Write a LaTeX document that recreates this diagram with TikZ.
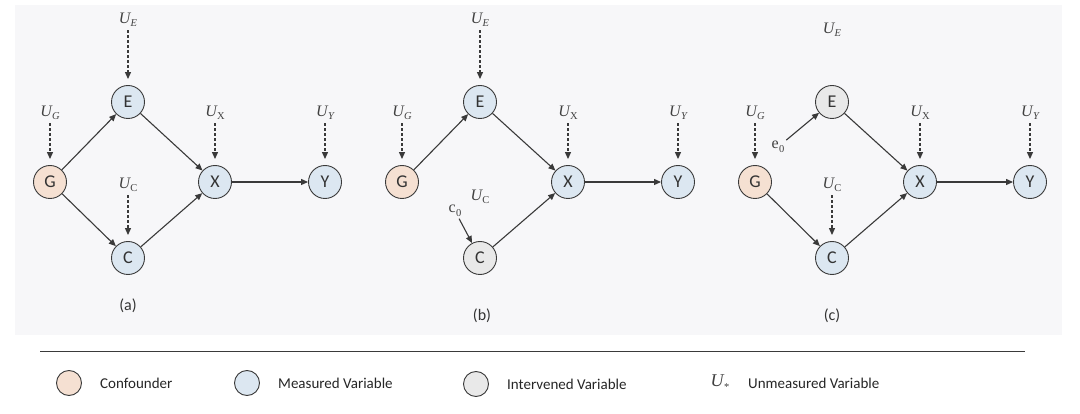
\documentclass[tikz,border=0pt]{standalone}
\usepackage{fontspec}
\setmainfont{Carlito}
\newfontfamily\uf{Liberation Serif}
\usetikzlibrary{arrows.meta}
\newcommand\UU[1]{{\uf\itshape U}\kern0.3pt\raisebox{-0.45ex}{\fontsize{10.5}{10.5}\selectfont\uf #1}}
\newcommand\SUB[2]{{\uf #1}\kern0.3pt\raisebox{-0.45ex}{\fontsize{10.5}{10.5}\selectfont\uf #2}}
\definecolor{conf}{HTML}{F5E0D2}
\definecolor{meas}{HTML}{DCE7F1}
\definecolor{intv}{HTML}{E9E9E9}
\definecolor{edge}{HTML}{3A3A3A}
\definecolor{bg}{HTML}{F7F7F9}
\tikzset{
  var/.style={circle,draw=edge,line width=0.9pt,minimum size=33pt,inner sep=0pt,font=\fontsize{18}{18}\selectfont,text=black!80},
  cf/.style={var,fill=conf},
  ms/.style={var,fill=meas},
  iv/.style={var,fill=intv},
  ulab/.style={inner sep=1pt,font=\fontsize{16}{16}\selectfont,text=black!75},
  arr/.style={draw=edge,line width=1.1pt,-{Triangle[length=7pt,width=6pt]}},
  darr/.style={draw=edge,line width=1.2pt,dashed,dash pattern=on 3pt off 2pt,-{Triangle[length=7pt,width=6pt]},shorten >=6pt,shorten <=2pt},
  captxt/.style={font=\fontsize{16}{16}\selectfont,text=black!80},
  legc/.style={circle,draw=edge,line width=0.9pt,minimum size=25pt,inner sep=0pt},
  legt/.style={anchor=west,inner sep=0pt,font=\fontsize{15}{15}\selectfont,text=black!85}
}
\begin{document}
\begin{tikzpicture}[x=1pt,y=-1pt]
\useasboundingbox (0,0) rectangle (1080,414);
\fill[white] (0,0) rectangle (1080,414);
\fill[bg] (15,5) rectangle (1062,335);
% ---------- panel (a)
\begin{scope}[name prefix=a-]
\node[cf] (G) at (50,182) {G};
\node[ms] (E) at (128,102) {E};
\node[ms] (C) at (128,258) {C};
\node[ms] (X) at (215,182) {X};
\node[ms] (Y) at (325,182) {Y};
\node[ulab] (uE) at (128,20) {\UU{\itshape E}};
\node[ulab] (uG) at (50,113) {\UU{\itshape G}};
\node[ulab] (uX) at (215,113) {\UU{X}};
\node[ulab] (uY) at (325,113) {\UU{\itshape Y}};
\node[ulab] (uC) at (128,185) {\UU{C}};
\node[captxt] (lab) at (128,306) {(a)};
\draw[arr] (G) -- (E);
\draw[arr] (G) -- (C);
\draw[arr] (E) -- (X);
\draw[arr] (C) -- (X);
\draw[arr] (X) -- (Y);
\draw[darr] (uE) -- (E);
\draw[darr] (uG) -- (G);
\draw[darr] (uX) -- (X);
\draw[darr] (uY) -- (Y);
\draw[darr] (uC) -- (C);
\end{scope}
% ---------- panel (b)
\begin{scope}[shift={(352,0)},name prefix=b-]
\node[cf] (G) at (50,182) {G};
\node[ms] (E) at (128,102) {E};
\node[iv] (C) at (128,258) {C};
\node[ms] (X) at (216,182) {X};
\node[ms] (Y) at (326,182) {Y};
\node[ulab] (uE) at (128,20) {\UU{\itshape E}};
\node[ulab] (uG) at (50,113) {\UU{\itshape G}};
\node[ulab] (uX) at (216,113) {\UU{X}};
\node[ulab] (uY) at (326,113) {\UU{\itshape Y}};
\node[ulab] (uC) at (128,197) {\UU{C}};
\node[ulab] (c0) at (103,211) {\SUB{c}{0}};
\node[captxt] (lab) at (130,316) {(b)};
\draw[arr] (G) -- (E);
\draw[arr] (E) -- (X);
\draw[arr] (C) -- (X);
\draw[arr] (X) -- (Y);
\draw[arr,shorten <=1pt] (c0) -- (C);
\draw[darr] (uE) -- (E);
\draw[darr] (uG) -- (G);
\draw[darr] (uX) -- (X);
\draw[darr] (uY) -- (Y);
\end{scope}
% ---------- panel (c)
\begin{scope}[shift={(705,0)},name prefix=c-]
\node[cf] (G) at (50,182) {G};
\node[iv] (E) at (127,102) {E};
\node[ms] (C) at (127,258) {C};
\node[ms] (X) at (215,182) {X};
\node[ms] (Y) at (325,182) {Y};
\node[ulab] (uE) at (127,30) {\UU{\itshape E}};
\node[ulab] (uG) at (50,113) {\UU{\itshape G}};
\node[ulab] (uX) at (215,113) {\UU{X}};
\node[ulab] (uY) at (325,113) {\UU{\itshape Y}};
\node[ulab] (uC) at (127,185) {\UU{C}};
\node[ulab] (e0) at (73,147) {\SUB{e}{0}};
\node[captxt] (lab) at (127,316) {(c)};
\draw[arr] (G) -- (C);
\draw[arr] (E) -- (X);
\draw[arr] (C) -- (X);
\draw[arr] (X) -- (Y);
\draw[arr,shorten <=1pt] (e0) -- (E);
\draw[darr] (uG) -- (G);
\draw[darr] (uX) -- (X);
\draw[darr] (uY) -- (Y);
\draw[darr] (uC) -- (C);
\end{scope}
% ---------- legend
\coordinate (l1) at (40,352);
\coordinate (l2) at (1025,352);
\draw[edge,line width=1pt] (l1) -- (l2);
\node[legc,fill=conf] (lc) at (69,383) {};
\node[legt] (lct) at (100,383) {Confounder};
\node[legc,fill=meas] (lm) at (247,383) {};
\node[legt] (lmt) at (278,383) {Measured Variable};
\node[legc,fill=intv] (li) at (476,384) {};
\node[legt] (lit) at (507,384) {Intervened Variable};
\node[ulab,font=\fontsize{18}{18}\selectfont] (lu) at (720,383) {\UU{*}};
\node[legt] (lut) at (748,383) {Unmeasured Variable};
\end{tikzpicture}
\end{document}
